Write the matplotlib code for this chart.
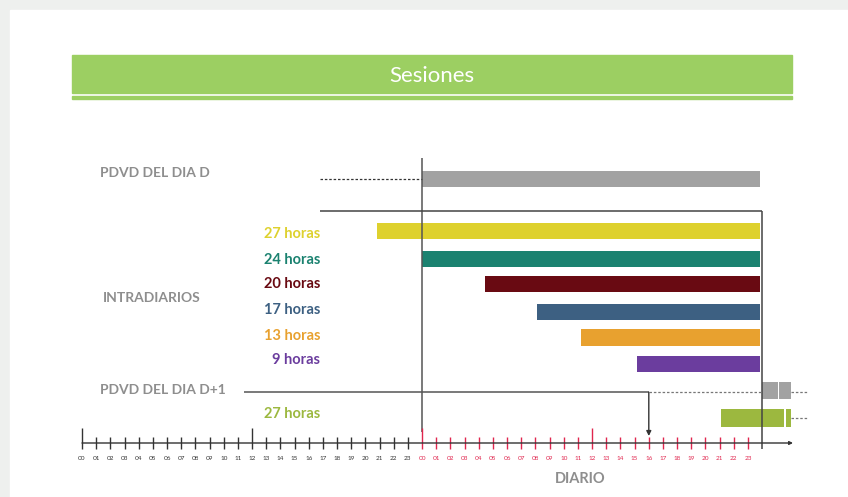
"""Sesiones: ventanas horarias del PDVD y de las sesiones intradiarias."""

import matplotlib.pyplot as plt
from matplotlib.patches import Rectangle

plt.rcParams["font.family"] = ["Lato", "DejaVu Sans"]

# --- datos (horas sobre un eje de 48 h: dia D-1 00..23, dia D 00..23) ---
hours = list(range(0, 49))
hour_labels = [f"{h % 24:02d}" for h in range(0, 48)]
long_ticks = [0, 12, 24, 36]

pdvd_d_start = 24.0
pdvd_d_end = 47.85
pdvd_d_lead = 16.8

intra_labels = ["27 horas", "24 horas", "20 horas", "17 horas", "13 horas", "9 horas"]
intra_start = [20.8, 24.0, 28.45, 32.1, 35.2, 39.2]
intra_end = [47.85, 47.85, 47.85, 47.85, 47.85, 47.85]
intra_colors = ["#ded12e", "#1b8270", "#690a12", "#3d6082", "#e8a12f", "#6b3d9e"]

pdvd_d1_segments = [(48.0, 49.1), (49.2, 50.0)]
pdvd_d1_line_start = 11.4
pdvd_d1_arrow_at = 40.0
intra_d1_label = "27 horas"
intra_d1_segments = [(45.07, 49.56), (49.7, 50.0)]

# --- layout (pixels) ---
W, H = 848, 497
X0, PX_PER_H = 82.0, 14.17


def hx(px):
    return (px - X0) / PX_PER_H


fig = plt.figure(figsize=(W / 100, H / 100), dpi=100)
bg = fig.add_axes([0, 0, 1, 1])
bg.set_xlim(0, W)
bg.set_ylim(H, 0)
bg.axis("off")

# marco gris claro
bg.add_patch(Rectangle((0, 0), W, H, color="#eef0ee", zorder=0))
bg.add_patch(Rectangle((10, 10), W - 10, H - 10, color="white", zorder=0))

# banner de titulo
bg.add_patch(Rectangle((72, 55), 720, 38, color="#9ccf62", zorder=1))
bg.add_patch(Rectangle((72, 96), 720, 2.5, color="#9ccf62", zorder=1))
bg.text(432, 76, "Sesiones", color="white", fontsize=16, ha="center", va="center", zorder=2)

ax = fig.add_axes([0, 0, 1, 1])
ax.set_xlim(hx(0), hx(W))
ax.set_ylim(H, 0)
ax.axis("off")
ax.patch.set_alpha(0)

gray_txt = "#8e8e8e"
line_c = "#444444"
red = "#e0264e"

# PDVD del dia D
y_d = 178.5
ax.barh(y_d, pdvd_d_end - pdvd_d_start, left=pdvd_d_start, height=16, color="#a2a2a2")
ax.hlines(y_d, pdvd_d_lead, pdvd_d_start, color="#333333", lw=0.9, linestyles=(0, (2, 1.5)))
bg.text(100, 173, "PDVD DEL DIA D", color=gray_txt, fontsize=10, fontweight="bold", va="center")

# lineas de referencia
ax.vlines(24, 158, 432, color="#555555", lw=1.1)
ax.hlines(211, pdvd_d_lead, 48, color=line_c, lw=1.1)
ax.vlines(48, 211, 449, color=line_c, lw=1.1)

# intradiarios
y_rows = [231.2, 259.0, 284.2, 312.2, 337.7, 364.0]
y_labels = [234.5, 259.5, 284.5, 310.5, 335.5, 360.5]
for lab, s, e, c, y, yl in zip(intra_labels, intra_start, intra_end, intra_colors, y_rows, y_labels):
    ax.barh(y, e - s, left=s, height=16.5, color=c)
    bg.text(320, yl, lab, color=c, fontsize=10.5, fontweight="bold", ha="right", va="center")
bg.text(103, 298, "INTRADIARIOS", color=gray_txt, fontsize=10, fontweight="bold", va="center")

# PDVD del dia D+1
y_d1 = 390.5
for s, e in pdvd_d1_segments:
    ax.barh(y_d1, e - s, left=s, height=17, color="#a2a2a2")
ax.hlines(392.3, pdvd_d1_line_start, pdvd_d1_arrow_at, color="#555555", lw=1.1)
ax.hlines(392.3, pdvd_d1_arrow_at, 48, color="#777777", lw=0.9, linestyles=(0, (2, 1.5)))
ax.hlines(392.3, 50.0, hx(808), color="#777777", lw=0.9, linestyles=(0, (2, 1.5)))
ax.annotate("", xy=(pdvd_d1_arrow_at, 436), xytext=(pdvd_d1_arrow_at, 392.3),
            arrowprops=dict(arrowstyle="-|>", color="#333333", lw=1.0, mutation_scale=7,
                            shrinkA=0, shrinkB=0))
bg.text(100, 390, "PDVD DEL DIA D+1", color=gray_txt, fontsize=10, fontweight="bold", va="center")

y_g = 418
for s, e in intra_d1_segments:
    ax.barh(y_g, e - s, left=s, height=17.5, color="#9cb83f")
ax.hlines(y_g, 50.0, hx(808), color="#777777", lw=0.9, linestyles=(0, (2, 1.5)))
bg.text(320, 414.5, intra_d1_label, color="#9cb83f", fontsize=10.5, fontweight="bold", ha="right", va="center")

# eje horario
y_ax = 443
ax.annotate("", xy=(hx(793), y_ax), xytext=(0, y_ax),
            arrowprops=dict(arrowstyle="-|>", color="#333333", lw=1.0, mutation_scale=5,
                            shrinkA=0, shrinkB=0))
for h in hours[:-1]:
    c = "#333333" if h < 24 else red
    top = 428 if h in long_ticks else 437
    ax.vlines(h, top, 449, color=c, lw=1.0)
    bg.text(X0 + h * PX_PER_H, 459, hour_labels[h], color=c, fontsize=4.6, ha="center", va="center")

bg.text(580, 479, "DIARIO", color=gray_txt, fontsize=10.5, fontweight="bold", ha="center", va="center")

fig.savefig("out.png", dpi=100)
